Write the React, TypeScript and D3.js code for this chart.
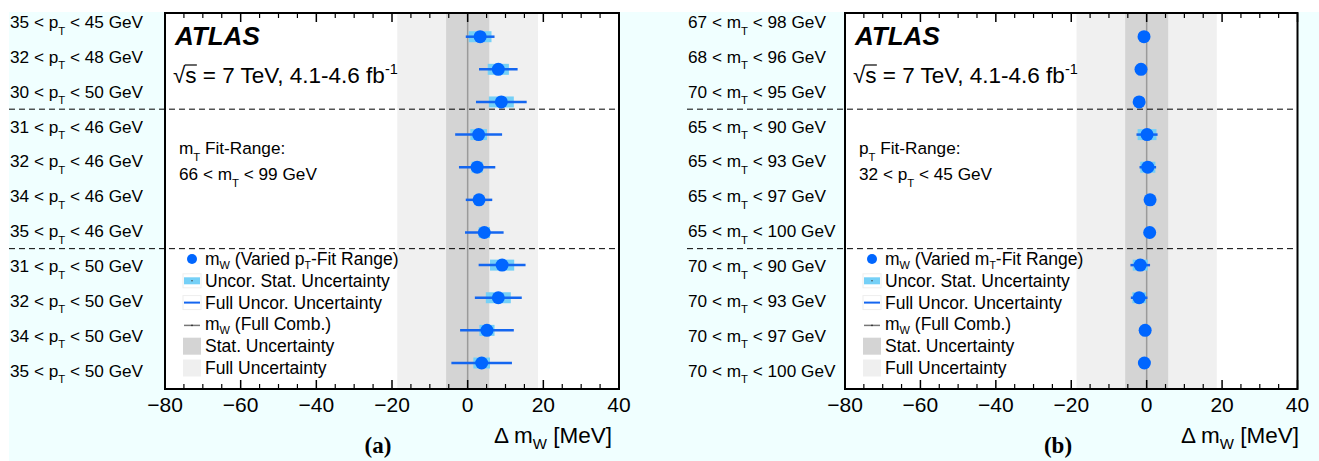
import React from "react";
import * as d3 from "d3";

const FONT = "'Liberation Sans', Arial, Helvetica, sans-serif";
const SERIF = "'Liberation Serif', 'Times New Roman', serif";

// ---------- data: panel (a) varied pT fit range ----------
const ptLow = [35, 32, 30, 31, 32, 34, 35, 31, 32, 34, 35];
const ptHigh = [45, 48, 50, 46, 46, 46, 46, 50, 50, 50, 50];
const aCentral = [3.3, 8.1, 8.9, 2.9, 2.5, 3.0, 4.4, 9.1, 8.1, 5.1, 3.7];
const aFullUnc = [3.8, 5.1, 6.7, 6.2, 4.8, 3.5, 5.1, 6.2, 6.2, 7.1, 8.0];
const aStatUnc = [3.0, 2.8, 3.3, 2.2, 1.5, 1.0, 1.5, 3.2, 3.3, 2.0, 2.2];
const aFitRange = [66, 99];

// ---------- data: panel (b) varied mT fit range ----------
const mtLow = [67, 68, 70, 65, 65, 65, 65, 70, 70, 70, 70];
const mtHigh = [98, 96, 95, 90, 93, 97, 100, 90, 93, 97, 100];
const bCentral = [-0.7, -1.5, -2.0, 0.1, 0.3, 0.9, 0.8, -1.7, -2.0, -0.4, -0.6];
const bFullUnc = [1.0, 1.0, 1.0, 2.8, 2.2, 1.2, 1.2, 2.6, 2.2, 1.0, 1.0];
const bStatUnc = [0.8, 0.8, 0.8, 2.5, 2.0, 1.0, 1.0, 2.0, 1.8, 0.8, 0.8];
const bFitRange = [32, 45];

// ---------- combined result ----------
const combStat = 5.7;
const combFull = 18.6;

// ---------- axis ----------
const xDomain = [-80, 40];
const xMajorTicks = [-80, -60, -40, -20, 0, 20, 40];
const groupSeparators = [2.5, 6.5];

const legendEntries = [
  "Uncor. Stat. Uncertainty",
  "Full Uncor. Uncertainty",
  "(Full Comb.)",
  "Stat. Uncertainty",
  "Full Uncertainty",
];

type PanelProps = {
  left: number;
  right: number;
  labelX: number;
  low: number[];
  high: number[];
  sym: string;
  central: number[];
  full: number[];
  stat: number[];
  fitSym: string;
  fitRange: number[];
  legendVar: string;
  tag: string;
  tagX: number;
  titleEnd: number;
};

function VarLabel({ x, y, lo, hi, sym, fs }: any) {
  return (
    <text x={x} y={y} fontSize={fs} fontFamily={FONT} fill="#000">
      {`${lo} < ${sym}`}
      <tspan dy={6.5} fontSize={fs * 0.66}>T</tspan>
      <tspan dy={-6.5}>{` < ${hi} GeV`}</tspan>
    </text>
  );
}

function Panel(p: PanelProps) {
  const x = d3.scaleLinear().domain(xDomain).range([p.left, p.right]);
  const top = 13;
  const bottom = 389;
  const yPt = d3.scaleLinear().domain([0, 10]).range([36.7, 363]);
  const yLab = d3.scaleLinear().domain([0, 10]).range([22, 370.7]);
  const minors = d3.range(-80, 41, 5).filter((v) => v % 20 !== 0);
  const fmt = d3.format("d");
  const legY = d3.scaleLinear().domain([0, 5]).range([259, 368]);
  const symL = p.left + 18;
  const symR = p.left + 36;
  const txtX = p.left + 40;
  const LF = 17.5;
  const sqrtX = p.left + 8;
  const sqrtFs = 22.5;

  return (
    <g>
      <rect x={p.left} y={top} width={p.right - p.left} height={bottom - top} fill="#fff" />
      <rect x={x(-combFull)} y={top} width={x(combFull) - x(-combFull)} height={bottom - top} fill="#f0f0f0" />
      <rect x={x(-combStat)} y={top} width={x(combStat) - x(-combStat)} height={bottom - top} fill="#d4d4d4" />
      <line x1={x(0)} x2={x(0)} y1={top} y2={bottom} stroke="#9a9a9a" strokeWidth={1.5} />

      {groupSeparators.map((g) => (
        <line key={g} x1={p.labelX - 1} x2={p.right} y1={yLab(g)} y2={yLab(g)} stroke="#000" strokeWidth={1} strokeDasharray="6,4" />
      ))}

      {p.central.map((c, i) => (
        <g key={i}>
          <rect x={x(c - p.stat[i])} y={yPt(i) - 5.5} width={x(c + p.stat[i]) - x(c - p.stat[i])} height={11} fill="#75d0f7" />
          <line x1={x(c - p.full[i])} x2={x(c + p.full[i])} y1={yPt(i)} y2={yPt(i)} stroke="#1466f0" strokeWidth={2.5} />
          <circle cx={x(c)} cy={yPt(i)} r={6.5} fill="#0066ff" />
        </g>
      ))}

      {p.low.map((lo, i) => (
        <VarLabel key={i} x={p.labelX} y={yLab(i) + 6} lo={lo} hi={p.high[i]} sym={p.sym} fs={17.2} />
      ))}

      <text x={p.left + 10} y={45} fontSize={26} fontWeight="bold" fontStyle="italic" fontFamily={FONT}>ATLAS</text>
      <text x={sqrtX} y={83} fontSize={sqrtFs} fontFamily={FONT}>
        {"√s = 7 TeV, 4.1-4.6 fb"}
        <tspan dy={-9} fontSize={14.5}>-1</tspan>
      </text>
      <line x1={sqrtX + 0.52 * sqrtFs} x2={sqrtX + 1.06 * sqrtFs} y1={83 - 0.8 * sqrtFs} y2={83 - 0.8 * sqrtFs} stroke="#000" strokeWidth={1.2} />

      <text x={p.left + 14} y={154} fontSize={17.2} fontFamily={FONT}>
        {p.fitSym}
        <tspan dy={6.5} fontSize={11.3}>T</tspan>
        <tspan dy={-6.5}>{" Fit-Range:"}</tspan>
      </text>
      <VarLabel x={p.left + 14} y={180} lo={p.fitRange[0]} hi={p.fitRange[1]} sym={p.fitSym} fs={17.2} />

      {/* legend */}
      <circle cx={p.left + 27} cy={legY(0)} r={5} fill="#0066ff" />
      <text x={txtX} y={legY(0) + 5.5} fontSize={LF} fontFamily={FONT}>
        {"m"}
        <tspan dy={4} fontSize={11}>W</tspan>
        <tspan dy={-4}>{` (Varied ${p.legendVar}`}</tspan>
        <tspan dy={4.5} fontSize={10.5}>T</tspan>
        <tspan dy={-4.5}>{"-Fit Range)"}</tspan>
      </text>
      <rect x={symL} y={legY(1) - 7} width={symR - symL} height={14} fill="none" stroke="#eeeeee" />
      <rect x={symL + 1} y={legY(1) - 3.5} width={symR - symL - 2} height={7} fill="#75d0f7" />
      <circle cx={(symL + symR) / 2} cy={legY(1)} r={0.7} fill="#333" />
      <text x={txtX} y={legY(1) + 6.5} fontSize={LF} fontFamily={FONT}>{legendEntries[0]}</text>
      <rect x={symL} y={legY(2) - 7} width={symR - symL} height={14} fill="none" stroke="#eeeeee" />
      <line x1={symL + 1} x2={symR - 1} y1={legY(2)} y2={legY(2)} stroke="#1466f0" strokeWidth={2} />
      <text x={txtX} y={legY(2) + 6} fontSize={LF} fontFamily={FONT}>{legendEntries[1]}</text>
      <line x1={symL + 1} x2={symR - 1} y1={legY(3) + 1} y2={legY(3) + 1} stroke="#777" strokeWidth={1.5} />
      <circle cx={(symL + symR) / 2} cy={legY(3) + 1} r={0.8} fill="#222" />
      <text x={txtX} y={legY(3) + 6} fontSize={LF} fontFamily={FONT}>
        {"m"}
        <tspan dy={4} fontSize={11}>W</tspan>
        <tspan dy={-4}>{` ${legendEntries[2]}`}</tspan>
      </text>
      <rect x={symL} y={legY(4) - 8.5} width={symR - symL} height={17} fill="#d4d4d4" />
      <text x={txtX} y={legY(4) + 6} fontSize={LF} fontFamily={FONT}>{legendEntries[3]}</text>
      <rect x={symL} y={legY(5) - 8.5} width={symR - symL} height={17} fill="#efefef" />
      <text x={txtX} y={legY(5) + 6} fontSize={LF} fontFamily={FONT}>{legendEntries[4]}</text>

      {/* frame + ticks */}
      <rect x={p.left} y={top} width={p.right - p.left} height={bottom - top} fill="none" stroke="#000" strokeWidth={2} />
      {xMajorTicks.map((v) => (
        <g key={v}>
          <line x1={x(v)} x2={x(v)} y1={top} y2={top + 9} stroke="#000" strokeWidth={1.5} />
          <line x1={x(v)} x2={x(v)} y1={bottom} y2={bottom - 9} stroke="#000" strokeWidth={1.5} />
          <text x={x(v)} y={412} textAnchor="middle" fontSize={21} fontFamily={FONT}>{fmt(v)}</text>
        </g>
      ))}
      {minors.map((v) => (
        <g key={v}>
          <line x1={x(v)} x2={x(v)} y1={top} y2={top + 5} stroke="#000" strokeWidth={1.2} />
          <line x1={x(v)} x2={x(v)} y1={bottom} y2={bottom - 5} stroke="#000" strokeWidth={1.2} />
        </g>
      ))}
      <text x={p.titleEnd} y={443} textAnchor="end" fontSize={22.5} fontFamily={FONT}>
        {"Δ m"}
        <tspan dy={6} fontSize={15}>W</tspan>
        <tspan dy={-6}>{" [MeV]"}</tspan>
      </text>
      <text x={p.tagX} y={453} textAnchor="middle" fontSize={23} fontWeight="bold" fontFamily={SERIF}>{p.tag}</text>
    </g>
  );
}

export default function App() {
  return (
    <svg width={1319} height={461} style={{ position: "absolute", left: 0, top: 0 }}>
      <rect x={0} y={0} width={1319} height={461} fill="#fff" />
      <rect x={9} y={12} width={1310} height={449} fill="#f0ffff" />
      <Panel left={165} right={619} labelX={10} low={ptLow} high={ptHigh} sym="p"
        central={aCentral} full={aFullUnc} stat={aStatUnc} fitSym="m" fitRange={aFitRange}
        legendVar="p" tag="(a)" tagX={378} titleEnd={612} />
      <Panel left={845} right={1297.5} labelX={688} low={mtLow} high={mtHigh} sym="m"
        central={bCentral} full={bFullUnc} stat={bStatUnc} fitSym="p" fitRange={bFitRange}
        legendVar="m" tag="(b)" tagX={1058} titleEnd={1299} />
    </svg>
  );
}
